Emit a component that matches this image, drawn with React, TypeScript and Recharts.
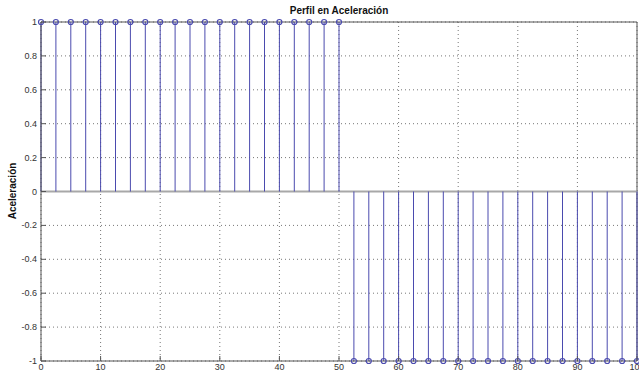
import { ComposedChart, Scatter, XAxis, YAxis, CartesianGrid, ReferenceLine } from "recharts"

const xValues = [
  0, 2.5, 5, 7.5, 10, 12.5, 15, 17.5, 20, 22.5, 25, 27.5, 30, 32.5, 35, 37.5, 40, 42.5, 45, 47.5, 50,
  52.5, 55, 57.5, 60, 62.5, 65, 67.5, 70, 72.5, 75, 77.5, 80, 82.5, 85, 87.5, 90, 92.5, 95, 97.5, 100,
]
const accel = [
  1, 1, 1, 1, 1, 1, 1, 1, 1, 1, 1, 1, 1, 1, 1, 1, 1, 1, 1, 1, 1,
  -1, -1, -1, -1, -1, -1, -1, -1, -1, -1, -1, -1, -1, -1, -1, -1, -1, -1, -1, -1,
]
const xTicks = [0, 10, 20, 30, 40, 50, 60, 70, 80, 90, 100]
const yTicks = [-1, -0.8, -0.6, -0.4, -0.2, 0, 0.2, 0.4, 0.6, 0.8, 1]

const data = xValues.map((x, i) => ({ x, y: accel[i] }))

const stemColor = "#4a4aae"
const font = "'Liberation Sans', Arial, sans-serif"

const YTick = (props: any) => {
  const { x, y, payload } = props
  return (
    <g>
      <line x1={x + 4} x2={x + 9} y1={y} y2={y} stroke="#555" />
      <text x={x} y={y} dy={3} textAnchor="end" fontSize={9} fill="#333" fontFamily={font}>
        {payload.value}
      </text>
    </g>
  )
}

const XTick = (props: any) => {
  const { x, y, payload } = props
  return (
    <g>
      <line x1={x} x2={x} y1={y} y2={y - 5} stroke="#555" />
      <text x={x} y={y} dy={9} textAnchor="middle" fontSize={9} fill="#333" fontFamily={font}>
        {payload.value}
      </text>
    </g>
  )
}

const Marker = (props: any) => {
  const { cx, cy } = props
  return <circle cx={cx} cy={cy} r={2.5} fill="none" stroke={stemColor} strokeWidth={1.2} />
}

export default function App() {
  return (
    <div style={{ position: "fixed", left: 0, top: 0, width: 639, height: 373, background: "#fff" }}>
      <ComposedChart width={639} height={373} data={data} margin={{ top: 22, right: 2, bottom: 0, left: 0 }}>
        <text x={339} y={14} textAnchor="middle" fontSize={10} fontWeight="bold" fontFamily={font} fill="#111">
          Perfil en Aceleración
        </text>
        <text
          x={16}
          y={191}
          transform="rotate(-90 16 191)"
          textAnchor="middle"
          fontSize={10}
          fontWeight="bold"
          fontFamily={font}
          fill="#111"
        >
          Aceleración
        </text>
        <CartesianGrid stroke="#777" strokeDasharray="1 3" />
        <XAxis
          dataKey="x"
          type="number"
          domain={[0, 100]}
          ticks={xTicks}
          height={12}
          tickLine={false}
          tickSize={0}
          tickMargin={0}
          tick={<XTick />}
          stroke="#555"
          interval={0}
        />
        <YAxis
          dataKey="y"
          type="number"
          domain={[-1, 1]}
          ticks={yTicks}
          width={41}
          tickLine={false}
          tickSize={0}
          tickMargin={4}
          tick={<YTick />}
          stroke="#555"
          interval={0}
        />
        <ReferenceLine y={1} stroke="#555" />
        <ReferenceLine x={100} stroke="#555" />
        <ReferenceLine y={0} stroke="#a8a8a8" strokeWidth={2} />
        {data.map((d) => (
          <ReferenceLine
            key={d.x}
            segment={[
              { x: d.x, y: 0 },
              { x: d.x, y: d.y },
            ]}
            stroke={stemColor}
            strokeWidth={1}
          />
        ))}
        <Scatter dataKey="y" shape={<Marker />} isAnimationActive={false} />
      </ComposedChart>
    </div>
  )
}
